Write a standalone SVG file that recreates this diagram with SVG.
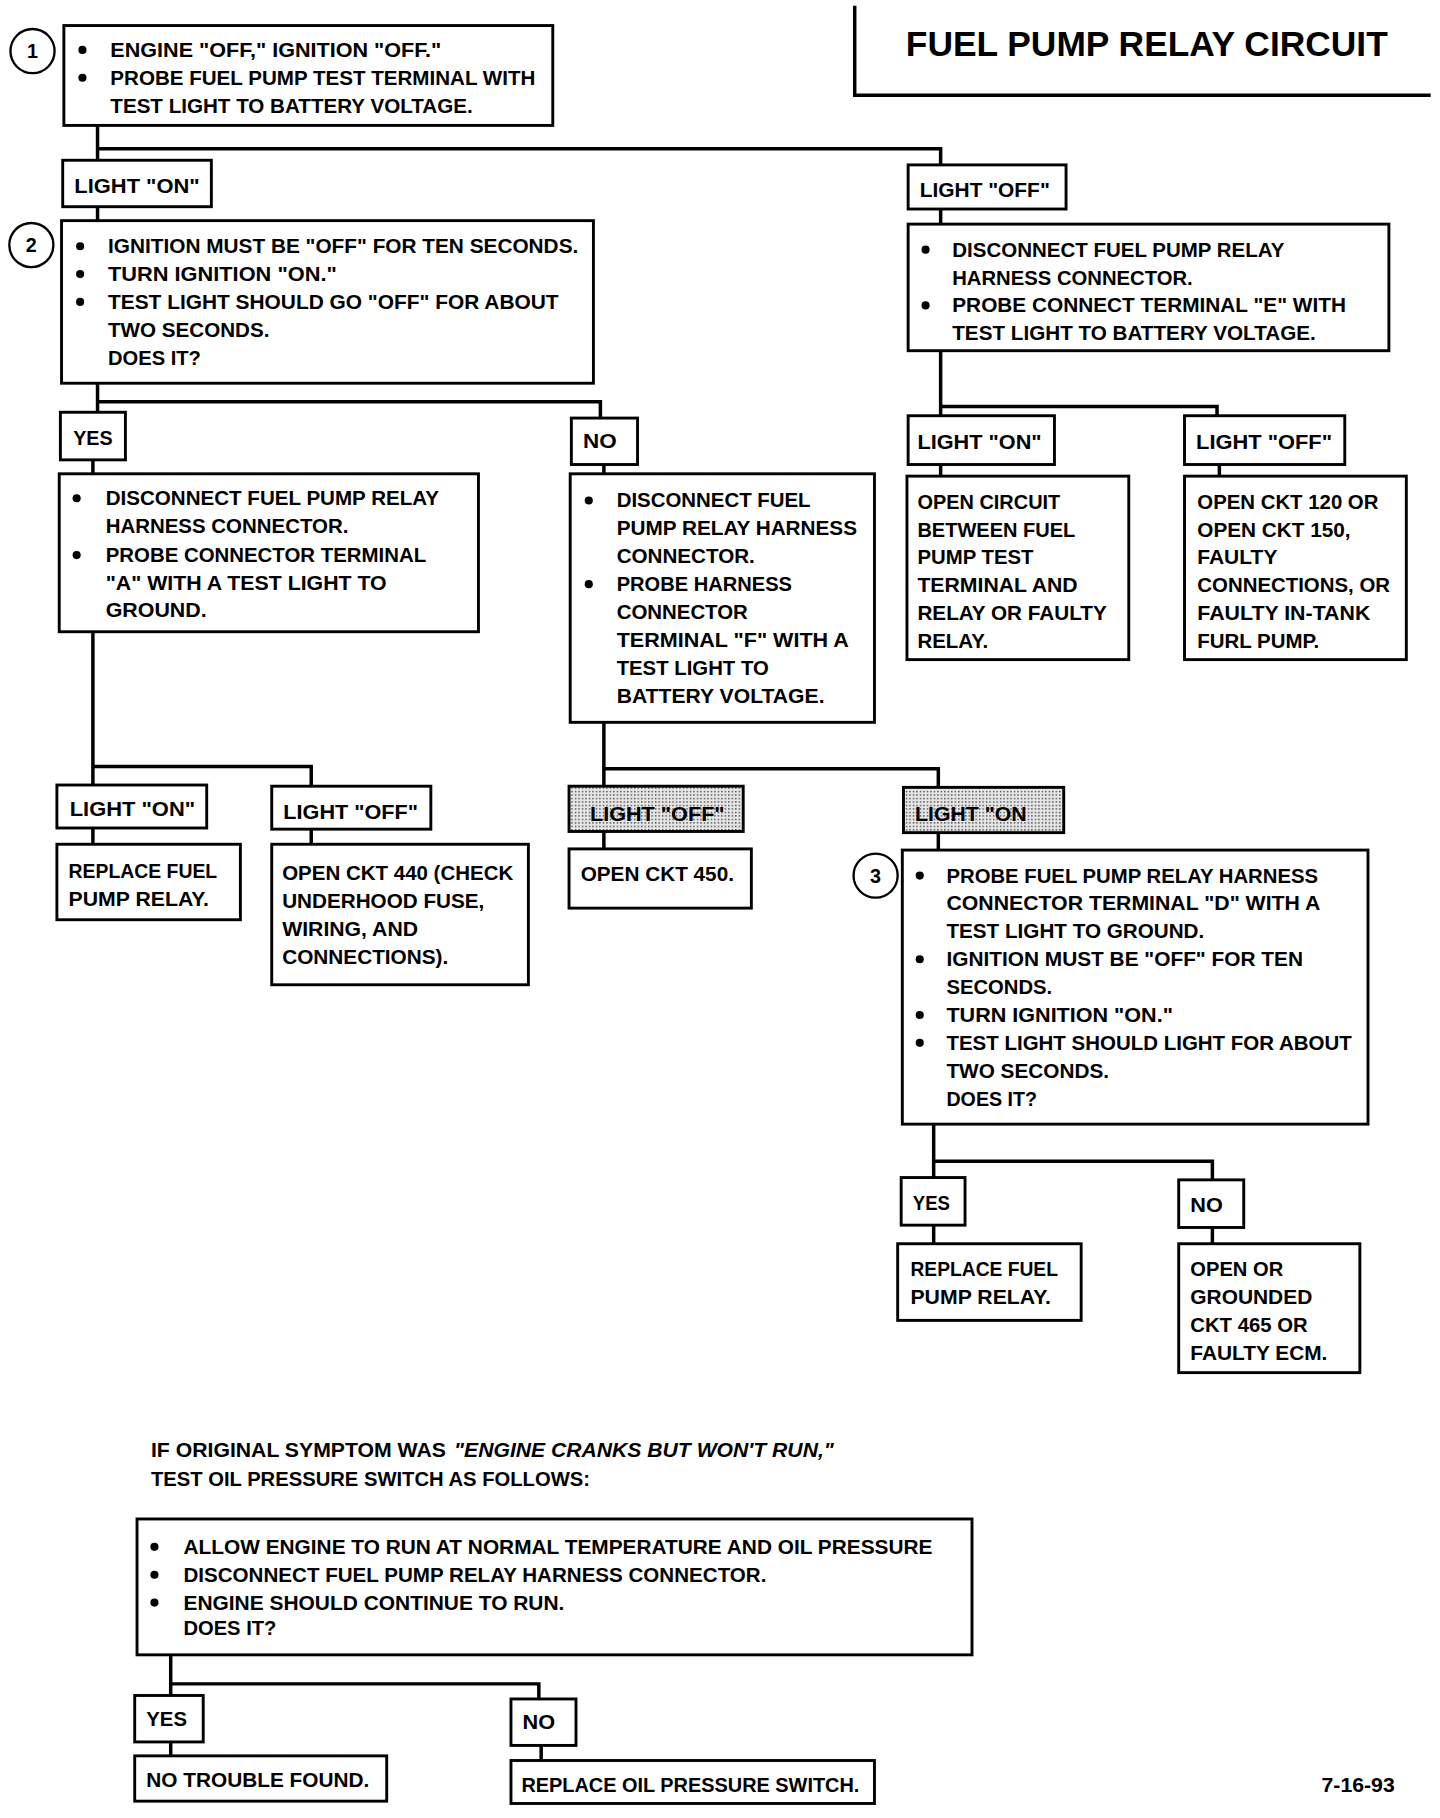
<svg xmlns="http://www.w3.org/2000/svg" width="1440" height="1818" viewBox="0 0 1440 1818">
<style>
.box{fill:#fff;stroke:#000;stroke-width:2.5}
.shade{fill:url(#dots);stroke:#000;stroke-width:2.5}
.conn{fill:none;stroke:#000;stroke-width:3}
.t{font-family:"Liberation Sans",Arial,sans-serif;font-weight:bold;font-size:17px;fill:#000}
.ti{font-family:"Liberation Sans",Arial,sans-serif;font-weight:bold;font-style:italic;font-size:17px;fill:#000}
.title{font-family:"Liberation Sans",Arial,sans-serif;font-weight:bold;font-size:30px;fill:#000}
.num{font-family:"Liberation Sans",Arial,sans-serif;font-weight:bold;font-size:17px;fill:#000;text-anchor:middle}
.circ{fill:#fff;stroke:#000;stroke-width:2}
.b{fill:#000}
</style>
<defs>
<pattern id="dots" width="3" height="3" patternUnits="userSpaceOnUse">
<rect width="3" height="3" fill="#e6e6e6"/>
<rect width="1.2" height="1.2" fill="#444"/>
</pattern>
</defs>
<rect width="1440" height="1818" fill="#fff"/>
<g transform="scale(1.16129)">
<g id="title">
<path class="conn" d="M736,5 V82 H1232"/>
<text class="title" x="780" y="48" textLength="415" lengthAdjust="spacingAndGlyphs">FUEL PUMP RELAY CIRCUIT</text>
</g>
<g id="connectors">
<path class="conn" d="M84,108 V138 M84,128 H810 V142"/>
<path class="conn" d="M84,178 V190"/>
<path class="conn" d="M810,180 V193"/>
<path class="conn" d="M84,330 V355 M84,346 H517 V360"/>
<path class="conn" d="M80,396 V408"/>
<path class="conn" d="M520,400 V408"/>
<path class="conn" d="M810,302 V358 M810,350 H1048 V358"/>
<path class="conn" d="M810,400 V410"/>
<path class="conn" d="M1050,400 V410"/>
<path class="conn" d="M80,544 V676 M80,660 H268 V677"/>
<path class="conn" d="M80,713 V727"/>
<path class="conn" d="M268,714 V727"/>
<path class="conn" d="M520,622 V677 M520,662 H808 V678"/>
<path class="conn" d="M520,716 V731"/>
<path class="conn" d="M808,717 V732"/>
<path class="conn" d="M804,968 V1014 M804,1000 H1044 V1016"/>
<path class="conn" d="M804,1055 V1071"/>
<path class="conn" d="M1044,1057 V1071"/>
<path class="conn" d="M147,1425 V1460 M147,1450 H464 V1463"/>
<path class="conn" d="M147,1500 V1512"/>
<path class="conn" d="M466,1503 V1516"/>
</g>
<g id="step1">
<circle class="circ" cx="28" cy="44" r="19"/>
<text class="num" x="28" y="50">1</text>
<rect class="box" x="55" y="22" width="421" height="86"/>
<circle class="b" cx="71" cy="43" r="3.5"/>
<circle class="b" cx="71" cy="67" r="3.5"/>
<text class="t" x="95" y="49" textLength="285" lengthAdjust="spacingAndGlyphs">ENGINE "OFF," IGNITION "OFF."</text>
<text class="t" x="95" y="73" textLength="366" lengthAdjust="spacingAndGlyphs">PROBE FUEL PUMP TEST TERMINAL WITH</text>
<text class="t" x="95" y="97" textLength="312" lengthAdjust="spacingAndGlyphs">TEST LIGHT TO BATTERY VOLTAGE.</text>
</g>
<g id="light-on-1">
<rect class="box" x="54" y="138" width="128" height="40"/>
<text class="t" x="64" y="166" textLength="108" lengthAdjust="spacingAndGlyphs">LIGHT "ON"</text>
</g>
<g id="light-off-1">
<rect class="box" x="782" y="142" width="136" height="38"/>
<text class="t" x="792" y="170" textLength="112" lengthAdjust="spacingAndGlyphs">LIGHT "OFF"</text>
</g>
<g id="step2">
<circle class="circ" cx="27" cy="211" r="19"/>
<text class="num" x="27" y="217">2</text>
<rect class="box" x="53" y="190" width="458" height="140"/>
<circle class="b" cx="69" cy="212" r="3.5"/>
<circle class="b" cx="69" cy="236" r="3.5"/>
<circle class="b" cx="69" cy="260" r="3.5"/>
<text class="t" x="93" y="218" textLength="405" lengthAdjust="spacingAndGlyphs">IGNITION MUST BE "OFF" FOR TEN SECONDS.</text>
<text class="t" x="93" y="242" textLength="197" lengthAdjust="spacingAndGlyphs">TURN IGNITION "ON."</text>
<text class="t" x="93" y="266" textLength="388" lengthAdjust="spacingAndGlyphs">TEST LIGHT SHOULD GO "OFF" FOR ABOUT</text>
<text class="t" x="93" y="290" textLength="139" lengthAdjust="spacingAndGlyphs">TWO SECONDS.</text>
<text class="t" x="93" y="314" textLength="80" lengthAdjust="spacingAndGlyphs">DOES IT?</text>
</g>
<g id="disconnect-e">
<rect class="box" x="782" y="193" width="414" height="109"/>
<circle class="b" cx="797" cy="215" r="3.5"/>
<circle class="b" cx="797" cy="263" r="3.5"/>
<text class="t" x="820" y="221" textLength="286" lengthAdjust="spacingAndGlyphs">DISCONNECT FUEL PUMP RELAY</text>
<text class="t" x="820" y="245" textLength="207" lengthAdjust="spacingAndGlyphs">HARNESS CONNECTOR.</text>
<text class="t" x="820" y="269" textLength="339" lengthAdjust="spacingAndGlyphs">PROBE CONNECT TERMINAL "E" WITH</text>
<text class="t" x="820" y="293" textLength="313" lengthAdjust="spacingAndGlyphs">TEST LIGHT TO BATTERY VOLTAGE.</text>
</g>
<g id="yes-1">
<rect class="box" x="52" y="355" width="56" height="41"/>
<text class="t" x="63" y="383" textLength="34" lengthAdjust="spacingAndGlyphs">YES</text>
</g>
<g id="no-1">
<rect class="box" x="492" y="360" width="57" height="40"/>
<text class="t" x="502" y="386" textLength="29" lengthAdjust="spacingAndGlyphs">NO</text>
</g>
<g id="light-on-2">
<rect class="box" x="782" y="358" width="126" height="42"/>
<text class="t" x="790" y="387" textLength="107" lengthAdjust="spacingAndGlyphs">LIGHT "ON"</text>
</g>
<g id="light-off-2">
<rect class="box" x="1020" y="358" width="138" height="42"/>
<text class="t" x="1030" y="387" textLength="117" lengthAdjust="spacingAndGlyphs">LIGHT "OFF"</text>
</g>
<g id="disconnect-a">
<rect class="box" x="51" y="408" width="361" height="136"/>
<circle class="b" cx="66" cy="429" r="3.5"/>
<circle class="b" cx="66" cy="478" r="3.5"/>
<text class="t" x="91" y="435" textLength="287" lengthAdjust="spacingAndGlyphs">DISCONNECT FUEL PUMP RELAY</text>
<text class="t" x="91" y="459" textLength="209" lengthAdjust="spacingAndGlyphs">HARNESS CONNECTOR.</text>
<text class="t" x="91" y="484" textLength="276" lengthAdjust="spacingAndGlyphs">PROBE CONNECTOR TERMINAL</text>
<text class="t" x="91" y="508" textLength="242" lengthAdjust="spacingAndGlyphs">"A" WITH A TEST LIGHT TO</text>
<text class="t" x="91" y="531" textLength="87" lengthAdjust="spacingAndGlyphs">GROUND.</text>
</g>
<g id="disconnect-f">
<rect class="box" x="491" y="408" width="262" height="214"/>
<circle class="b" cx="507" cy="431" r="3.5"/>
<circle class="b" cx="507" cy="503" r="3.5"/>
<text class="t" x="531" y="437" textLength="167" lengthAdjust="spacingAndGlyphs">DISCONNECT FUEL</text>
<text class="t" x="531" y="461" textLength="207" lengthAdjust="spacingAndGlyphs">PUMP RELAY HARNESS</text>
<text class="t" x="531" y="485" textLength="119" lengthAdjust="spacingAndGlyphs">CONNECTOR.</text>
<text class="t" x="531" y="509" textLength="151" lengthAdjust="spacingAndGlyphs">PROBE HARNESS</text>
<text class="t" x="531" y="533" textLength="113" lengthAdjust="spacingAndGlyphs">CONNECTOR</text>
<text class="t" x="531" y="557" textLength="200" lengthAdjust="spacingAndGlyphs">TERMINAL "F" WITH A</text>
<text class="t" x="531" y="581" textLength="131" lengthAdjust="spacingAndGlyphs">TEST LIGHT TO</text>
<text class="t" x="531" y="605" textLength="179" lengthAdjust="spacingAndGlyphs">BATTERY VOLTAGE.</text>
</g>
<g id="open-circuit">
<rect class="box" x="781" y="410" width="191" height="158"/>
<text class="t" x="790" y="438" textLength="123" lengthAdjust="spacingAndGlyphs">OPEN CIRCUIT</text>
<text class="t" x="790" y="462" textLength="136" lengthAdjust="spacingAndGlyphs">BETWEEN FUEL</text>
<text class="t" x="790" y="486" textLength="100" lengthAdjust="spacingAndGlyphs">PUMP TEST</text>
<text class="t" x="790" y="510" textLength="138" lengthAdjust="spacingAndGlyphs">TERMINAL AND</text>
<text class="t" x="790" y="534" textLength="163" lengthAdjust="spacingAndGlyphs">RELAY OR FAULTY</text>
<text class="t" x="790" y="558" textLength="61" lengthAdjust="spacingAndGlyphs">RELAY.</text>
</g>
<g id="open-ckt-120">
<rect class="box" x="1020" y="410" width="191" height="158"/>
<text class="t" x="1031" y="438" textLength="156" lengthAdjust="spacingAndGlyphs">OPEN CKT 120 OR</text>
<text class="t" x="1031" y="462" textLength="132" lengthAdjust="spacingAndGlyphs">OPEN CKT 150,</text>
<text class="t" x="1031" y="486" textLength="69" lengthAdjust="spacingAndGlyphs">FAULTY</text>
<text class="t" x="1031" y="510" textLength="166" lengthAdjust="spacingAndGlyphs">CONNECTIONS, OR</text>
<text class="t" x="1031" y="534" textLength="149" lengthAdjust="spacingAndGlyphs">FAULTY IN-TANK</text>
<text class="t" x="1031" y="558" textLength="105" lengthAdjust="spacingAndGlyphs">FURL PUMP.</text>
</g>
<g id="light-on-3">
<rect class="box" x="49" y="676" width="129" height="37"/>
<text class="t" x="60" y="703" textLength="108" lengthAdjust="spacingAndGlyphs">LIGHT "ON"</text>
</g>
<g id="light-off-3">
<rect class="box" x="234" y="677" width="137" height="37"/>
<text class="t" x="244" y="705" textLength="116" lengthAdjust="spacingAndGlyphs">LIGHT "OFF"</text>
</g>
<g id="replace-relay-1">
<rect class="box" x="49" y="727" width="158" height="65"/>
<text class="t" x="59" y="756" textLength="128" lengthAdjust="spacingAndGlyphs">REPLACE FUEL</text>
<text class="t" x="59" y="780" textLength="121" lengthAdjust="spacingAndGlyphs">PUMP RELAY.</text>
</g>
<g id="open-ckt-440">
<rect class="box" x="234" y="727" width="221" height="121"/>
<text class="t" x="243" y="758" textLength="199" lengthAdjust="spacingAndGlyphs">OPEN CKT 440 (CHECK</text>
<text class="t" x="243" y="782" textLength="174" lengthAdjust="spacingAndGlyphs">UNDERHOOD FUSE,</text>
<text class="t" x="243" y="806" textLength="117" lengthAdjust="spacingAndGlyphs">WIRING, AND</text>
<text class="t" x="243" y="830" textLength="143" lengthAdjust="spacingAndGlyphs">CONNECTIONS).</text>
</g>
<g id="light-off-4">
<rect class="shade" x="490" y="677" width="150" height="39"/>
<text class="t" x="508" y="707" textLength="116" lengthAdjust="spacingAndGlyphs">LIGHT "OFF"</text>
</g>
<g id="open-ckt-450">
<rect class="box" x="490" y="731" width="157" height="51"/>
<text class="t" x="500" y="759" textLength="132" lengthAdjust="spacingAndGlyphs">OPEN CKT 450.</text>
</g>
<g id="light-on-4">
<rect class="shade" x="778" y="678" width="138" height="39"/>
<text class="t" x="788" y="707" textLength="96" lengthAdjust="spacingAndGlyphs">LIGHT "ON</text>
</g>
<g id="step3">
<circle class="circ" cx="754" cy="754" r="19"/>
<text class="num" x="754" y="760">3</text>
<rect class="box" x="777" y="732" width="401" height="236"/>
<circle class="b" cx="792" cy="754" r="3.5"/>
<circle class="b" cx="792" cy="826" r="3.5"/>
<circle class="b" cx="792" cy="874" r="3.5"/>
<circle class="b" cx="792" cy="898" r="3.5"/>
<text class="t" x="815" y="760" textLength="320" lengthAdjust="spacingAndGlyphs">PROBE FUEL PUMP RELAY HARNESS</text>
<text class="t" x="815" y="784" textLength="322" lengthAdjust="spacingAndGlyphs">CONNECTOR TERMINAL "D" WITH A</text>
<text class="t" x="815" y="808" textLength="222" lengthAdjust="spacingAndGlyphs">TEST LIGHT TO GROUND.</text>
<text class="t" x="815" y="832" textLength="307" lengthAdjust="spacingAndGlyphs">IGNITION MUST BE "OFF" FOR TEN</text>
<text class="t" x="815" y="856" textLength="91" lengthAdjust="spacingAndGlyphs">SECONDS.</text>
<text class="t" x="815" y="880" textLength="195" lengthAdjust="spacingAndGlyphs">TURN IGNITION "ON."</text>
<text class="t" x="815" y="904" textLength="349" lengthAdjust="spacingAndGlyphs">TEST LIGHT SHOULD LIGHT FOR ABOUT</text>
<text class="t" x="815" y="928" textLength="140" lengthAdjust="spacingAndGlyphs">TWO SECONDS.</text>
<text class="t" x="815" y="952" textLength="78" lengthAdjust="spacingAndGlyphs">DOES IT?</text>
</g>
<g id="yes-3">
<rect class="box" x="776" y="1014" width="55" height="41"/>
<text class="t" x="786" y="1042" textLength="32" lengthAdjust="spacingAndGlyphs">YES</text>
</g>
<g id="no-3">
<rect class="box" x="1015" y="1016" width="56" height="41"/>
<text class="t" x="1025" y="1044" textLength="28" lengthAdjust="spacingAndGlyphs">NO</text>
</g>
<g id="replace-relay-2">
<rect class="box" x="773" y="1071" width="158" height="66"/>
<text class="t" x="784" y="1099" textLength="127" lengthAdjust="spacingAndGlyphs">REPLACE FUEL</text>
<text class="t" x="784" y="1123" textLength="121" lengthAdjust="spacingAndGlyphs">PUMP RELAY.</text>
</g>
<g id="open-ckt-465">
<rect class="box" x="1015" y="1071" width="156" height="111"/>
<text class="t" x="1025" y="1099" textLength="80" lengthAdjust="spacingAndGlyphs">OPEN OR</text>
<text class="t" x="1025" y="1123" textLength="105" lengthAdjust="spacingAndGlyphs">GROUNDED</text>
<text class="t" x="1025" y="1147" textLength="101" lengthAdjust="spacingAndGlyphs">CKT 465 OR</text>
<text class="t" x="1025" y="1171" textLength="118" lengthAdjust="spacingAndGlyphs">FAULTY ECM.</text>
</g>
<g id="symptom-note">
<text class="t" x="130" y="1255" textLength="254" lengthAdjust="spacingAndGlyphs">IF ORIGINAL SYMPTOM WAS</text>
<text class="ti" x="391" y="1255" textLength="327" lengthAdjust="spacingAndGlyphs">"ENGINE CRANKS BUT WON'T RUN,"</text>
<text class="t" x="130" y="1280" textLength="378" lengthAdjust="spacingAndGlyphs">TEST OIL PRESSURE SWITCH AS FOLLOWS:</text>
</g>
<g id="oil-test">
<rect class="box" x="118" y="1308" width="719" height="117"/>
<circle class="b" cx="133" cy="1332" r="3.5"/>
<circle class="b" cx="133" cy="1356" r="3.5"/>
<circle class="b" cx="133" cy="1380" r="3.5"/>
<text class="t" x="158" y="1338" textLength="645" lengthAdjust="spacingAndGlyphs">ALLOW ENGINE TO RUN AT NORMAL TEMPERATURE AND OIL PRESSURE</text>
<text class="t" x="158" y="1362" textLength="502" lengthAdjust="spacingAndGlyphs">DISCONNECT FUEL PUMP RELAY HARNESS CONNECTOR.</text>
<text class="t" x="158" y="1386" textLength="328" lengthAdjust="spacingAndGlyphs">ENGINE SHOULD CONTINUE TO RUN.</text>
<text class="t" x="158" y="1408" textLength="80" lengthAdjust="spacingAndGlyphs">DOES IT?</text>
</g>
<g id="yes-4">
<rect class="box" x="116" y="1460" width="59" height="40"/>
<text class="t" x="126" y="1486" textLength="35" lengthAdjust="spacingAndGlyphs">YES</text>
</g>
<g id="no-4">
<rect class="box" x="440" y="1463" width="56" height="40"/>
<text class="t" x="450" y="1489" textLength="28" lengthAdjust="spacingAndGlyphs">NO</text>
</g>
<g id="no-trouble">
<rect class="box" x="116" y="1512" width="217" height="39"/>
<text class="t" x="126" y="1539" textLength="192" lengthAdjust="spacingAndGlyphs">NO TROUBLE FOUND.</text>
</g>
<g id="replace-switch">
<rect class="box" x="440" y="1516" width="313" height="37"/>
<text class="t" x="449" y="1543" textLength="291" lengthAdjust="spacingAndGlyphs">REPLACE OIL PRESSURE SWITCH.</text>
</g>
<g id="date">
<text class="t" x="1138" y="1543" textLength="63" lengthAdjust="spacingAndGlyphs">7-16-93</text>
</g>
</g>
</svg>
